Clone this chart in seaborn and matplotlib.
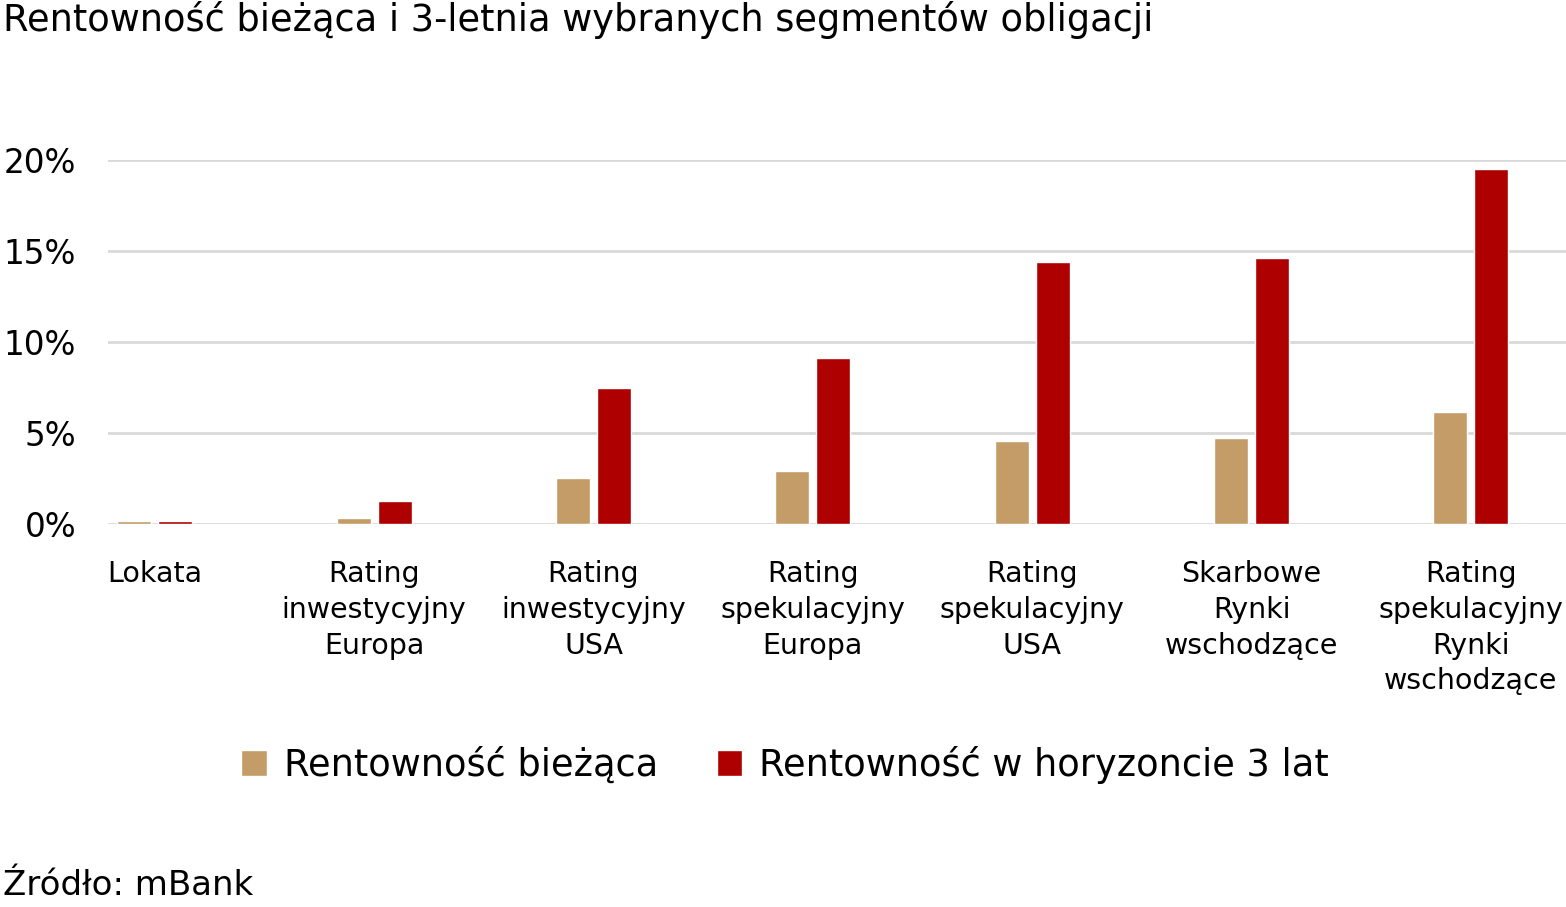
import pandas as pd
import matplotlib.pyplot as plt
import seaborn as sns
from matplotlib.ticker import FuncFormatter
from matplotlib.patches import Patch

# dane (w %)
kategorie = ["Lokata",
             "Rating\ninwestycyjny\nEuropa",
             "Rating\ninwestycyjny\nUSA",
             "Rating\nspekulacyjny\nEuropa",
             "Rating\nspekulacyjny\nUSA",
             "Skarbowe\nRynki\nwschodzące",
             "Rating\nspekulacyjny\nRynki\nwschodzące"]
rent_biezaca = [0.18, 0.33, 2.53, 2.91, 4.56, 4.75, 6.15]
rent_3lata = [0.18, 1.26, 7.47, 9.12, 14.4, 14.6, 19.5]
serie = ["Rentowność bieżąca", "Rentowność w horyzoncie 3 lat"]
kolory = ["#C49C68", "#AF0000"]

df = pd.DataFrame({
    "kategoria": kategorie * 2,
    "seria": [serie[0]] * len(kategorie) + [serie[1]] * len(kategorie),
    "wartosc": rent_biezaca + rent_3lata,
})

sns.set_style("white")
plt.rcParams['font.family'] = ['DejaVu Sans']
plt.rcParams['text.color'] = 'black'
plt.rcParams['xtick.color'] = 'black'
plt.rcParams['ytick.color'] = 'black'

fig = plt.figure(figsize=(15.66, 9.07), dpi=100)
ax = fig.add_axes([108 / 1566, 1 - 524 / 907, 1 - 108 / 1566, (524 - 160) / 907])

sns.barplot(data=df, x="kategoria", y="wartosc", hue="seria",
            palette=kolory, width=0.374, gap=0.17, ax=ax, legend=False,
            saturation=1)

ax.set_ylim(0, 20)
ax.set_xlim(-0.214, 6.434)
ax.set_yticks([0, 5, 10, 15, 20])
ax.yaxis.set_major_formatter(FuncFormatter(lambda v, p: f"{v:.0f}%"))
ax.grid(axis="y", color="#D9D9D9", linewidth=2)
ax.set_axisbelow(True)
for s in ax.spines.values():
    s.set_visible(False)
ax.set_xlabel("")
ax.set_ylabel("")
ax.tick_params(axis="y", labelsize=23.5, length=0, pad=23)
ax.tick_params(axis="x", labelsize=20.5, length=0, pad=26)
for lab in ax.get_xticklabels():
    lab.set_linespacing(1.35)
    lab.set_verticalalignment("top")

fig.text(0.002, 0.978, "Rentowność bieżąca i 3-letnia wybranych segmentów obligacji",
         fontsize=26.5, ha="left", va="center")
fig.text(0.002, 0.024, "Źródło: mBank", fontsize=24.5, ha="left", va="center")

uchwyty = [Patch(facecolor=c, label=s) for c, s in zip(kolory, serie)]
fig.legend(handles=uchwyty, loc="center", bbox_to_anchor=(785 / 1566, 1 - 765 / 907),
           ncol=2, frameon=False, fontsize=26.5, handlelength=0.7, handleheight=0.7,
           handletextpad=0.46, columnspacing=1.6)

fig.savefig("out.png", dpi=100)
